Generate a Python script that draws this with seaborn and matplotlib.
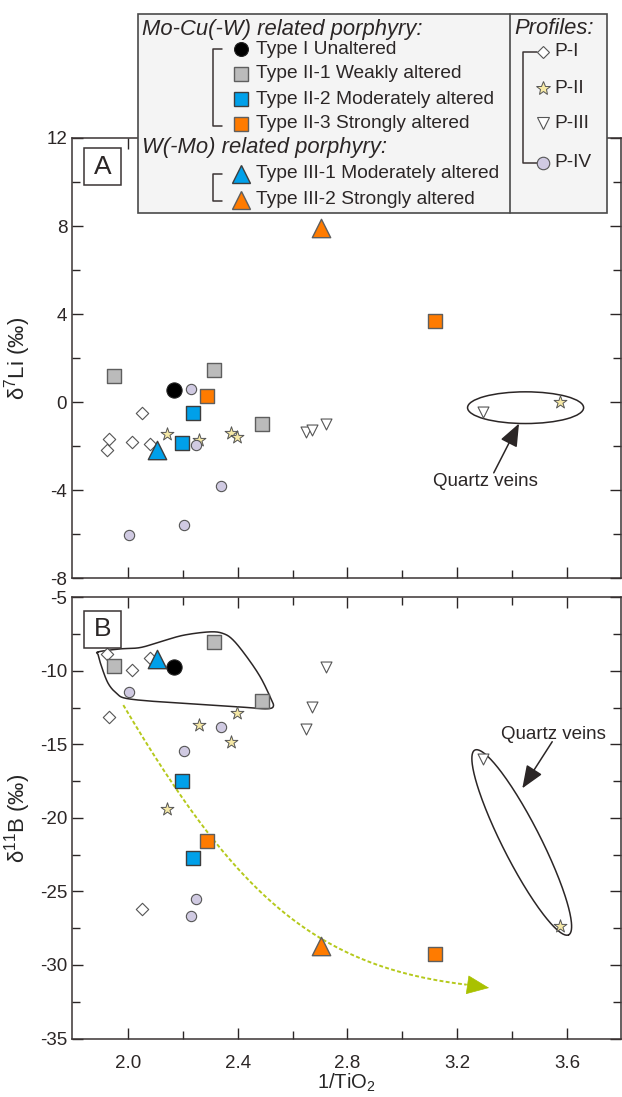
import numpy as np
import pandas as pd
import matplotlib
matplotlib.use("Agg")
import matplotlib.pyplot as plt
import seaborn as sns
from matplotlib.patches import Rectangle, Ellipse
from matplotlib.lines import Line2D

# ---- data: x = 1/TiO2, li = d7Li, b = d11B ----
type1_x = [2.168]
type1_li = [0.55]
type1_b = [-9.77]

type21_x = [1.948, 2.315, 2.488]
type21_li = [1.20, 1.45, -1.00]
type21_b = [-9.64, -8.03, -12.04]

type22_x = [2.197, 2.237]
type22_li = [-1.85, -0.51]
type22_b = [-17.47, -22.70]

type23_x = [2.288, 3.118]
type23_li = [0.29, 3.70]
type23_b = [-21.56, -29.24]

type31_x = [2.104]
type31_li = [-2.15]
type31_b = [-9.20]

type32_x = [2.702]
type32_li = [7.90]
type32_b = [-28.74]

p1_x = [1.923, 1.932, 2.013, 2.051, 2.080]
p1_li = [-2.17, -1.68, -1.83, -0.47, -1.88]
p1_b = [-8.87, -13.13, -9.96, -26.18, -9.16]

p2_x = [2.141, 2.259, 2.376, 2.396, 3.574]
p2_li = [-1.45, -1.73, -1.42, -1.58, -0.01]
p2_b = [-19.41, -13.67, -14.87, -12.85, -27.34]

p3_x = [2.647, 2.670, 2.720, 3.292]
p3_li = [-1.35, -1.27, -1.01, -0.44]
p3_b = [-13.98, -12.45, -9.73, -16.02]

p4_x = [2.004, 2.204, 2.229, 2.248, 2.338]
p4_li = [-6.05, -5.60, 0.58, -1.94, -3.82]
p4_b = [-11.47, -15.45, -26.70, -25.50, -13.83]

x_ticks = [2.0, 2.4, 2.8, 3.2, 3.6]
li_ticks = [-8, -4, 0, 4, 8, 12]
b_ticks = [-35, -30, -25, -20, -15, -10, -5]

# annotation guides (data coords)
blob_b = [(1.892, -8.71), (1.971, -8.51), (2.044, -8.42), (2.117, -8.03),
          (2.202, -7.58), (2.299, -7.35), (2.348, -7.47), (2.384, -7.92),
          (2.433, -9.05), (2.482, -10.41), (2.518, -11.77), (2.530, -12.40),
          (2.506, -12.58), (2.433, -12.49), (2.299, -12.33), (2.117, -12.11),
          (1.995, -11.88), (1.959, -11.54), (1.928, -10.86), (1.904, -9.73),
          (1.892, -8.94)]
# cubic curve of the alteration-trend arrow: start, two controls, end
trend_b = [(1.983, -12.33), (2.395, -25.30), (2.680, -30.10), (3.234, -31.34)]
trend_tip = (3.316, -31.56)

frames = []
for name, xs, li, b in [
    ("Type I", type1_x, type1_li, type1_b),
    ("Type II-1", type21_x, type21_li, type21_b),
    ("Type II-2", type22_x, type22_li, type22_b),
    ("Type II-3", type23_x, type23_li, type23_b),
    ("Type III-1", type31_x, type31_li, type31_b),
    ("Type III-2", type32_x, type32_li, type32_b),
    ("P-I", p1_x, p1_li, p1_b),
    ("P-II", p2_x, p2_li, p2_b),
    ("P-III", p3_x, p3_li, p3_b),
    ("P-IV", p4_x, p4_li, p4_b),
]:
    frames.append(pd.DataFrame({"group": name, "x": xs, "li": li, "b": b}))
df = pd.concat(frames, ignore_index=True)

BLUE = "#00a0e9"
ORANGE = "#ff7b00"
GRAY = "#bbbbbb"
LAV = "#d0cae2"
STAR = "#f6e9a6"
EDGE = "#555555"
INK = "#2b2626"

styles = {
    "P-I": dict(marker="D", s=40, color="white", edgecolor=EDGE, linewidth=0.8, zorder=3),
    "P-II": dict(marker="*", s=95, color=STAR, edgecolor=EDGE, linewidth=0.7, zorder=3),
    "P-III": dict(marker="v", s=62, color="white", edgecolor=EDGE, linewidth=0.8, zorder=3),
    "P-IV": dict(marker="o", s=55, color=LAV, edgecolor=EDGE, linewidth=0.8, zorder=3),
    "Type I": dict(marker="o", s=120, color="black", edgecolor="#222222", linewidth=0.8, zorder=4),
    "Type II-1": dict(marker="s", s=105, color=GRAY, edgecolor="#5e5e5e", linewidth=1.0, zorder=4),
    "Type II-2": dict(marker="s", s=105, color=BLUE, edgecolor="#3d3d3d", linewidth=1.0, zorder=4),
    "Type II-3": dict(marker="s", s=105, color=ORANGE, edgecolor="#5e5e5e", linewidth=1.0, zorder=4),
    "Type III-1": dict(marker="^", s=175, color=BLUE, edgecolor="#3d3d3d", linewidth=1.0, zorder=4),
    "Type III-2": dict(marker="^", s=175, color=ORANGE, edgecolor="#5e5e5e", linewidth=1.0, zorder=4),
}

sns.set_theme(style="ticks")
plt.rcParams["font.family"] = ["Liberation Sans", "DejaVu Sans"]
plt.rcParams["mathtext.fontset"] = "custom"
plt.rcParams["mathtext.rm"] = "Liberation Sans"
plt.rcParams["mathtext.it"] = "Liberation Sans:italic"
plt.rcParams["axes.unicode_minus"] = False
plt.rcParams["text.color"] = INK

W, H = 622, 1097
def fx(px):
    return px / W
def fy(py):
    return 1 - py / H

fig = plt.figure(figsize=(W / 100, H / 100), dpi=100)
axA = fig.add_axes([fx(72), fy(578.3), 548.8 / W, 440.3 / H])
axB = fig.add_axes([fx(72), fy(1038.5), 548.8 / W, 441.2 / H])

for ax, col in [(axA, "li"), (axB, "b")]:
    for name, st in styles.items():
        sub = df[df["group"] == name]
        sns.scatterplot(data=sub, x="x", y=col, ax=ax, legend=False, **st)

for ax in (axA, axB):
    ax.set_xlim(1.796, 3.796)
    ax.set_xticks(x_ticks)
    ax.set_xticks(np.arange(2.2, 3.8, 0.4), minor=True)
    ax.tick_params(which="both", direction="in", top=True, right=True,
                   width=1.0, color=INK, labelsize=13.5, labelcolor=INK)
    ax.tick_params(which="major", length=8)
    ax.tick_params(which="minor", length=6)
    ax.tick_params(axis="y", pad=3.5)
    for sp in ax.spines.values():
        sp.set_color("#3b3434")
        sp.set_linewidth(1.1)
    ax.set_xlabel("")
    ax.set_ylabel("")

axA.set_ylim(-8, 12)
axA.set_yticks(li_ticks)
axA.set_yticks(np.arange(-6, 12, 4), minor=True)
axA.tick_params(axis="x", labelbottom=False)
axA.set_ylabel("δ$^{7}$Li (‰)", fontsize=16)
axA.yaxis.set_label_coords(-0.071, 0.5)

axB.set_ylim(-35, -5)
axB.set_yticks(b_ticks)
axB.set_yticks(np.arange(-32.5, -5, 5), minor=True)
axB.set_xticklabels([f"{v:.1f}" for v in x_ticks])
axB.tick_params(axis="x", pad=12)
axB.set_ylabel("δ$^{11}$B (‰)", fontsize=16)
axB.yaxis.set_label_coords(-0.071, 0.5)
axB.set_xlabel("1/TiO$_2$", fontsize=14.5, labelpad=0)

# panel tags
for ax, tag, y0, y1 in [(axA, "A", 0.8933, 0.9766), (axB, "B", 0.8858, 0.9696)]:
    ax.add_patch(Rectangle((0.0219, y0), 0.0668, y1 - y0, transform=ax.transAxes,
                           facecolor="white", edgecolor="#3b3434", lw=1.1, zorder=6))
    ax.text(0.0553, (y0 + y1) / 2, tag, transform=ax.transAxes, ha="center",
            va="center", fontsize=19, zorder=7)

head = "-|>,head_length=0.7,head_width=0.28"

# quartz veins, panel A
axA.add_patch(Ellipse((3.449, -0.25), 0.423, 1.44, fill=False, ec=INK, lw=1.1, zorder=2))
axA.annotate("", xy=(3.425, -0.97), xytext=(3.333, -3.21),
             arrowprops=dict(arrowstyle=head, mutation_scale=20, color=INK, lw=1.1,
                             shrinkA=0, shrinkB=0))
axA.text(3.303, -3.6, "Quartz veins", ha="center", va="center", fontsize=13.5)

# quartz veins, panel B (tilted ellipse)
t = np.linspace(0, 2 * np.pi, 300)
cx, cy = 3.435, -21.67
ux, uy = 0.171, -6.28
vx, vy = 0.0616, 0.589
axB.plot(cx + ux * np.cos(t) + vx * np.sin(t), cy + uy * np.cos(t) + vy * np.sin(t),
         color=INK, lw=1.1, zorder=2)
axB.annotate("", xy=(3.437, -17.99), xytext=(3.546, -14.82),
             arrowprops=dict(arrowstyle=head, mutation_scale=20, color=INK, lw=1.1,
                             shrinkA=0, shrinkB=0))
axB.text(3.55, -14.3, "Quartz veins", ha="center", va="center", fontsize=13.5)


def closed_spline(pts, n=24):
    p = np.asarray(pts, dtype=float)
    m = len(p)
    tt = np.linspace(0, 1, n, endpoint=False)[:, None]
    out = []
    for i in range(m):
        p0, p1, p2, p3 = p[(i - 1) % m], p[i], p[(i + 1) % m], p[(i + 2) % m]
        out.append(0.5 * (2 * p1 + (-p0 + p2) * tt + (2 * p0 - 5 * p1 + 4 * p2 - p3) * tt ** 2
                          + (-p0 + 3 * p1 - 3 * p2 + p3) * tt ** 3))
    out = np.vstack(out)
    return np.vstack([out, out[:1]])

blob = closed_spline(blob_b)
axB.plot(blob[:, 0], blob[:, 1], color=INK, lw=1.1, zorder=2)

b0, b1, b2, b3 = (np.array(v) for v in trend_b)
tt = np.linspace(0, 1, 200)[:, None]
trend = ((1 - tt) ** 3 * b0 + 3 * (1 - tt) ** 2 * tt * b1
         + 3 * (1 - tt) * tt ** 2 * b2 + tt ** 3 * b3)
axB.plot(trend[:, 0], trend[:, 1], color="#b5c91c", lw=1.4, ls=(0, (2, 1.2)), zorder=2)
axB.annotate("", xy=trend_tip, xytext=trend_b[-1],
             arrowprops=dict(arrowstyle="-|>,head_length=0.75,head_width=0.32",
                             mutation_scale=20, color="#a9c100", lw=0.5,
                             shrinkA=0, shrinkB=0))

# ---- legend box drawn in figure pixels ----
fig.add_artist(Rectangle((fx(138), fy(213)), (607 - 138) / W, (213 - 14) / H,
                         transform=fig.transFigure, facecolor="#f4f4f4",
                         edgecolor="#4a4a4a", lw=1.2, zorder=10))
fig.add_artist(Line2D([fx(510), fx(510)], [fy(14), fy(213)], transform=fig.transFigure,
                      color="#4a4a4a", lw=1.2, zorder=11))

def leg_text(px, py, s, **kw):
    fig.text(fx(px), fy(py), s, ha="left", va="center", zorder=12, **kw)

def leg_line(xs, ys):
    fig.add_artist(Line2D([fx(v) for v in xs], [fy(v) for v in ys],
                          transform=fig.transFigure, color="#3b3434", lw=1.1, zorder=11))

def leg_marker(px, py, name, ms):
    st = styles[name]
    fig.add_artist(Line2D([fx(px)], [fy(py)], transform=fig.transFigure, ls="none",
                          marker=st["marker"], markersize=ms, markerfacecolor=st["color"],
                          markeredgecolor=st["edgecolor"], markeredgewidth=st["linewidth"],
                          zorder=13))

leg_text(142, 29, "Mo-Cu(-W) related porphyry:", style="italic", fontsize=15.8)
leg_text(142, 147, "W(-Mo) related porphyry:", style="italic", fontsize=15.8)
leg_text(514, 29, "Profiles:", style="italic", fontsize=15.8)

leg_line([221.7, 212.7, 212.7, 221.7], [49, 49, 125.5, 125.5])
leg_line([221.7, 212.7, 212.7, 221.7], [173.5, 173.5, 200.5, 200.5])
leg_line([537, 522.7, 522.7, 537], [51.7, 51.7, 162.7, 162.7])

type_rows = [("Type I", "Type I Unaltered", 49, 10),
             ("Type II-1", "Type II-1 Weakly altered", 73.5, 10),
             ("Type II-2", "Type II-2 Moderately altered", 99, 10),
             ("Type II-3", "Type II-3 Strongly altered", 124, 10),
             ("Type III-1", "Type III-1 Moderately altered", 173.5, 13),
             ("Type III-2", "Type III-2 Strongly altered", 200, 13)]
for name, label, py, ms in type_rows:
    leg_marker(241, py, name, ms)
    leg_text(256, py, label, fontsize=13.8)

prof_rows = [("P-I", 51.7, 6.2), ("P-II", 88.3, 10), ("P-III", 123.3, 8.5), ("P-IV", 162.7, 9)]
for name, py, ms in prof_rows:
    leg_marker(542.7, py, name, ms)
    leg_text(554, py, name, fontsize=13.8)

fig.savefig("out.png", dpi=100)
